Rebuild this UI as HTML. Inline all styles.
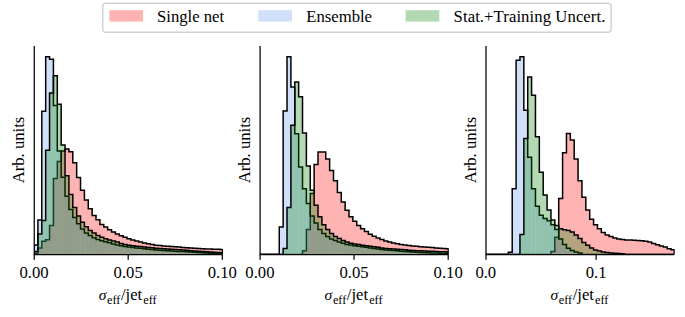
<!DOCTYPE html>
<html><head><meta charset="utf-8"><title>plot</title>
<style>html,body{margin:0;padding:0;background:#fff}svg{display:block}</style></head>
<body>
<svg width="685" height="317" viewBox="0 0 685 317" font-family="'Liberation Serif', serif">
<rect width="685" height="317" fill="#fff"/>
<clipPath id="c0"><rect x="34.05" y="46" width="188.3" height="208.55"/></clipPath>
<g clip-path="url(#c0)">
<g fill="rgb(255,0,0)" fill-opacity="0.3">
<rect x="34.05" y="253.2" width="3.874" height="1.35"/>
<rect x="37.924" y="248" width="3.874" height="6.55"/>
<rect x="41.798" y="241.2" width="3.874" height="13.35"/>
<rect x="45.672" y="239.7" width="3.874" height="14.85"/>
<rect x="49.546" y="225.5" width="3.874" height="29.05"/>
<rect x="53.42" y="178.5" width="3.874" height="76.05"/>
<rect x="57.294" y="161.5" width="3.874" height="93.05"/>
<rect x="61.168" y="151" width="3.874" height="103.55"/>
<rect x="65.042" y="149" width="3.874" height="105.55"/>
<rect x="68.916" y="151.8" width="3.874" height="102.75"/>
<rect x="72.79" y="162.8" width="3.874" height="91.75"/>
<rect x="76.664" y="177.5" width="3.874" height="77.05"/>
<rect x="80.538" y="190.2" width="3.874" height="64.35"/>
<rect x="84.412" y="200" width="3.874" height="54.55"/>
<rect x="88.286" y="208.8" width="3.874" height="45.75"/>
<rect x="92.16" y="215.4" width="3.874" height="39.15"/>
<rect x="96.034" y="219.8" width="3.874" height="34.75"/>
<rect x="99.908" y="224.4" width="3.874" height="30.15"/>
<rect x="103.782" y="227" width="3.874" height="27.55"/>
<rect x="107.656" y="229.7" width="3.874" height="24.85"/>
<rect x="111.53" y="232" width="3.874" height="22.55"/>
<rect x="115.404" y="233.9" width="3.874" height="20.65"/>
<rect x="119.278" y="235.8" width="3.874" height="18.75"/>
<rect x="123.152" y="237.3" width="3.874" height="17.25"/>
<rect x="127.026" y="238.8" width="3.874" height="15.75"/>
<rect x="130.9" y="240.1" width="3.874" height="14.45"/>
<rect x="134.774" y="241" width="3.874" height="13.55"/>
<rect x="138.648" y="241.9" width="3.874" height="12.65"/>
<rect x="142.522" y="242.9" width="3.874" height="11.65"/>
<rect x="146.396" y="243.7" width="3.874" height="10.85"/>
<rect x="150.27" y="244.5" width="3.874" height="10.05"/>
<rect x="154.144" y="245.3" width="3.874" height="9.25"/>
<rect x="158.018" y="245.6" width="3.874" height="8.95"/>
<rect x="161.892" y="245.9" width="3.874" height="8.65"/>
<rect x="165.766" y="246.2" width="3.874" height="8.35"/>
<rect x="169.64" y="246.5" width="3.874" height="8.05"/>
<rect x="173.514" y="246.8" width="3.874" height="7.75"/>
<rect x="177.388" y="247.1" width="3.874" height="7.45"/>
<rect x="181.262" y="247.4" width="3.874" height="7.15"/>
<rect x="185.136" y="247.65" width="3.874" height="6.9"/>
<rect x="189.01" y="247.9" width="3.874" height="6.65"/>
<rect x="192.884" y="248.15" width="3.874" height="6.4"/>
<rect x="196.758" y="248.4" width="3.874" height="6.15"/>
<rect x="200.632" y="248.65" width="3.874" height="5.9"/>
<rect x="204.506" y="248.9" width="3.874" height="5.65"/>
<rect x="208.38" y="249.05" width="3.874" height="5.5"/>
<rect x="212.254" y="249.2" width="3.874" height="5.35"/>
<rect x="216.128" y="249.35" width="3.874" height="5.2"/>
<rect x="220.002" y="249.5" width="3.874" height="5.05"/>
</g>
<path d="M34.05 254.55 L34.05 253.2 L37.924 253.2 L37.924 248 L41.798 248 L41.798 241.2 L45.672 241.2 L45.672 239.7 L49.546 239.7 L49.546 225.5 L53.42 225.5 L53.42 178.5 L57.294 178.5 L57.294 161.5 L61.168 161.5 L61.168 151 L65.042 151 L65.042 149 L68.916 149 L68.916 151.8 L72.79 151.8 L72.79 162.8 L76.664 162.8 L76.664 177.5 L80.538 177.5 L80.538 190.2 L84.412 190.2 L84.412 200 L88.286 200 L88.286 208.8 L92.16 208.8 L92.16 215.4 L96.034 215.4 L96.034 219.8 L99.908 219.8 L99.908 224.4 L103.782 224.4 L103.782 227 L107.656 227 L107.656 229.7 L111.53 229.7 L111.53 232 L115.404 232 L115.404 233.9 L119.278 233.9 L119.278 235.8 L123.152 235.8 L123.152 237.3 L127.026 237.3 L127.026 238.8 L130.9 238.8 L130.9 240.1 L134.774 240.1 L134.774 241 L138.648 241 L138.648 241.9 L142.522 241.9 L142.522 242.9 L146.396 242.9 L146.396 243.7 L150.27 243.7 L150.27 244.5 L154.144 244.5 L154.144 245.3 L158.018 245.3 L158.018 245.6 L161.892 245.6 L161.892 245.9 L165.766 245.9 L165.766 246.2 L169.64 246.2 L169.64 246.5 L173.514 246.5 L173.514 246.8 L177.388 246.8 L177.388 247.1 L181.262 247.1 L181.262 247.4 L185.136 247.4 L185.136 247.65 L189.01 247.65 L189.01 247.9 L192.884 247.9 L192.884 248.15 L196.758 248.15 L196.758 248.4 L200.632 248.4 L200.632 248.65 L204.506 248.65 L204.506 248.9 L208.38 248.9 L208.38 249.05 L212.254 249.05 L212.254 249.2 L216.128 249.2 L216.128 249.35 L220.002 249.35 L220.002 249.5 L223.876 249.5" fill="none" stroke="#000" stroke-width="1.5" stroke-linejoin="miter"/>
<g fill="rgb(100,149,237)" fill-opacity="0.3">
<rect x="34.05" y="245" width="3.874" height="9.55"/>
<rect x="37.924" y="220" width="3.874" height="34.55"/>
<rect x="41.798" y="111.2" width="3.874" height="143.35"/>
<rect x="45.672" y="56.7" width="3.874" height="197.85"/>
<rect x="49.546" y="59.2" width="3.874" height="195.35"/>
<rect x="53.42" y="105.6" width="3.874" height="148.95"/>
<rect x="57.294" y="151" width="3.874" height="103.55"/>
<rect x="61.168" y="177.2" width="3.874" height="77.35"/>
<rect x="65.042" y="196.3" width="3.874" height="58.25"/>
<rect x="68.916" y="209.5" width="3.874" height="45.05"/>
<rect x="72.79" y="217.6" width="3.874" height="36.95"/>
<rect x="76.664" y="223.7" width="3.874" height="30.85"/>
<rect x="80.538" y="229" width="3.874" height="25.55"/>
<rect x="84.412" y="233.1" width="3.874" height="21.45"/>
<rect x="88.286" y="235.6" width="3.874" height="18.95"/>
<rect x="92.16" y="237.7" width="3.874" height="16.85"/>
<rect x="96.034" y="239.4" width="3.874" height="15.15"/>
<rect x="99.908" y="240.7" width="3.874" height="13.85"/>
<rect x="103.782" y="241.8" width="3.874" height="12.75"/>
<rect x="107.656" y="242.8" width="3.874" height="11.75"/>
<rect x="111.53" y="243.9" width="3.874" height="10.65"/>
<rect x="115.404" y="244.9" width="3.874" height="9.65"/>
<rect x="119.278" y="245.7" width="3.874" height="8.85"/>
<rect x="123.152" y="246.4" width="3.874" height="8.15"/>
<rect x="127.026" y="247.1" width="3.874" height="7.45"/>
<rect x="130.9" y="247.5" width="3.874" height="7.05"/>
<rect x="134.774" y="247.9" width="3.874" height="6.65"/>
<rect x="138.648" y="248.3" width="3.874" height="6.25"/>
<rect x="142.522" y="248.7" width="3.874" height="5.85"/>
<rect x="146.396" y="249.133" width="3.874" height="5.417"/>
<rect x="150.27" y="249.567" width="3.874" height="4.983"/>
<rect x="154.144" y="250" width="3.874" height="4.55"/>
<rect x="158.018" y="250.229" width="3.874" height="4.321"/>
<rect x="161.892" y="250.459" width="3.874" height="4.091"/>
<rect x="165.766" y="250.688" width="3.874" height="3.862"/>
<rect x="169.64" y="250.918" width="3.874" height="3.632"/>
<rect x="173.514" y="251.147" width="3.874" height="3.403"/>
<rect x="177.388" y="251.376" width="3.874" height="3.174"/>
<rect x="181.262" y="251.606" width="3.874" height="2.944"/>
<rect x="185.136" y="251.835" width="3.874" height="2.715"/>
<rect x="189.01" y="252.065" width="3.874" height="2.485"/>
<rect x="192.884" y="252.294" width="3.874" height="2.256"/>
<rect x="196.758" y="252.524" width="3.874" height="2.026"/>
<rect x="200.632" y="252.753" width="3.874" height="1.797"/>
<rect x="204.506" y="252.982" width="3.874" height="1.568"/>
<rect x="208.38" y="253.212" width="3.874" height="1.338"/>
<rect x="212.254" y="253.441" width="3.874" height="1.109"/>
<rect x="216.128" y="253.671" width="3.874" height="0.879"/>
<rect x="220.002" y="253.9" width="3.874" height="0.65"/>
</g>
<path d="M34.05 254.55 L34.05 245 L37.924 245 L37.924 220 L41.798 220 L41.798 111.2 L45.672 111.2 L45.672 56.7 L49.546 56.7 L49.546 59.2 L53.42 59.2 L53.42 105.6 L57.294 105.6 L57.294 151 L61.168 151 L61.168 177.2 L65.042 177.2 L65.042 196.3 L68.916 196.3 L68.916 209.5 L72.79 209.5 L72.79 217.6 L76.664 217.6 L76.664 223.7 L80.538 223.7 L80.538 229 L84.412 229 L84.412 233.1 L88.286 233.1 L88.286 235.6 L92.16 235.6 L92.16 237.7 L96.034 237.7 L96.034 239.4 L99.908 239.4 L99.908 240.7 L103.782 240.7 L103.782 241.8 L107.656 241.8 L107.656 242.8 L111.53 242.8 L111.53 243.9 L115.404 243.9 L115.404 244.9 L119.278 244.9 L119.278 245.7 L123.152 245.7 L123.152 246.4 L127.026 246.4 L127.026 247.1 L130.9 247.1 L130.9 247.5 L134.774 247.5 L134.774 247.9 L138.648 247.9 L138.648 248.3 L142.522 248.3 L142.522 248.7 L146.396 248.7 L146.396 249.133 L150.27 249.133 L150.27 249.567 L154.144 249.567 L154.144 250 L158.018 250 L158.018 250.229 L161.892 250.229 L161.892 250.459 L165.766 250.459 L165.766 250.688 L169.64 250.688 L169.64 250.918 L173.514 250.918 L173.514 251.147 L177.388 251.147 L177.388 251.376 L181.262 251.376 L181.262 251.606 L185.136 251.606 L185.136 251.835 L189.01 251.835 L189.01 252.065 L192.884 252.065 L192.884 252.294 L196.758 252.294 L196.758 252.524 L200.632 252.524 L200.632 252.753 L204.506 252.753 L204.506 252.982 L208.38 252.982 L208.38 253.212 L212.254 253.212 L212.254 253.441 L216.128 253.441 L216.128 253.671 L220.002 253.671 L220.002 253.9 L223.876 253.9" fill="none" stroke="#000" stroke-width="1.5" stroke-linejoin="miter"/>
<g fill="rgb(0,128,0)" fill-opacity="0.3">
<rect x="34.05" y="251.6" width="3.874" height="2.95"/>
<rect x="37.924" y="234" width="3.874" height="20.55"/>
<rect x="41.798" y="220.5" width="3.874" height="34.05"/>
<rect x="45.672" y="150.25" width="3.874" height="104.3"/>
<rect x="49.546" y="92.9" width="3.874" height="161.65"/>
<rect x="53.42" y="75.8" width="3.874" height="178.75"/>
<rect x="57.294" y="104.3" width="3.874" height="150.25"/>
<rect x="61.168" y="145" width="3.874" height="109.55"/>
<rect x="65.042" y="175.8" width="3.874" height="78.75"/>
<rect x="68.916" y="194.6" width="3.874" height="59.95"/>
<rect x="72.79" y="207.4" width="3.874" height="47.15"/>
<rect x="76.664" y="216.1" width="3.874" height="38.45"/>
<rect x="80.538" y="222.2" width="3.874" height="32.35"/>
<rect x="84.412" y="226.7" width="3.874" height="27.85"/>
<rect x="88.286" y="230.5" width="3.874" height="24.05"/>
<rect x="92.16" y="233.1" width="3.874" height="21.45"/>
<rect x="96.034" y="235.4" width="3.874" height="19.15"/>
<rect x="99.908" y="237.3" width="3.874" height="17.25"/>
<rect x="103.782" y="238.8" width="3.874" height="15.75"/>
<rect x="107.656" y="239.9" width="3.874" height="14.65"/>
<rect x="111.53" y="241.1" width="3.874" height="13.45"/>
<rect x="115.404" y="242.1" width="3.874" height="12.45"/>
<rect x="119.278" y="243.6" width="3.874" height="10.95"/>
<rect x="123.152" y="244.5" width="3.874" height="10.05"/>
<rect x="127.026" y="245.3" width="3.874" height="9.25"/>
<rect x="130.9" y="245.8" width="3.874" height="8.75"/>
<rect x="134.774" y="246.2" width="3.874" height="8.35"/>
<rect x="138.648" y="246.6" width="3.874" height="7.95"/>
<rect x="142.522" y="247" width="3.874" height="7.55"/>
<rect x="146.396" y="247.433" width="3.874" height="7.117"/>
<rect x="150.27" y="247.867" width="3.874" height="6.683"/>
<rect x="154.144" y="248.3" width="3.874" height="6.25"/>
<rect x="158.018" y="248.559" width="3.874" height="5.991"/>
<rect x="161.892" y="248.818" width="3.874" height="5.732"/>
<rect x="165.766" y="249.076" width="3.874" height="5.474"/>
<rect x="169.64" y="249.335" width="3.874" height="5.215"/>
<rect x="173.514" y="249.594" width="3.874" height="4.956"/>
<rect x="177.388" y="249.853" width="3.874" height="4.697"/>
<rect x="181.262" y="250.112" width="3.874" height="4.438"/>
<rect x="185.136" y="250.371" width="3.874" height="4.179"/>
<rect x="189.01" y="250.629" width="3.874" height="3.921"/>
<rect x="192.884" y="250.888" width="3.874" height="3.662"/>
<rect x="196.758" y="251.147" width="3.874" height="3.403"/>
<rect x="200.632" y="251.406" width="3.874" height="3.144"/>
<rect x="204.506" y="251.665" width="3.874" height="2.885"/>
<rect x="208.38" y="251.924" width="3.874" height="2.626"/>
<rect x="212.254" y="252.182" width="3.874" height="2.368"/>
<rect x="216.128" y="252.441" width="3.874" height="2.109"/>
<rect x="220.002" y="252.7" width="3.874" height="1.85"/>
</g>
<path d="M34.05 254.55 L34.05 251.6 L37.924 251.6 L37.924 234 L41.798 234 L41.798 220.5 L45.672 220.5 L45.672 150.25 L49.546 150.25 L49.546 92.9 L53.42 92.9 L53.42 75.8 L57.294 75.8 L57.294 104.3 L61.168 104.3 L61.168 145 L65.042 145 L65.042 175.8 L68.916 175.8 L68.916 194.6 L72.79 194.6 L72.79 207.4 L76.664 207.4 L76.664 216.1 L80.538 216.1 L80.538 222.2 L84.412 222.2 L84.412 226.7 L88.286 226.7 L88.286 230.5 L92.16 230.5 L92.16 233.1 L96.034 233.1 L96.034 235.4 L99.908 235.4 L99.908 237.3 L103.782 237.3 L103.782 238.8 L107.656 238.8 L107.656 239.9 L111.53 239.9 L111.53 241.1 L115.404 241.1 L115.404 242.1 L119.278 242.1 L119.278 243.6 L123.152 243.6 L123.152 244.5 L127.026 244.5 L127.026 245.3 L130.9 245.3 L130.9 245.8 L134.774 245.8 L134.774 246.2 L138.648 246.2 L138.648 246.6 L142.522 246.6 L142.522 247 L146.396 247 L146.396 247.433 L150.27 247.433 L150.27 247.867 L154.144 247.867 L154.144 248.3 L158.018 248.3 L158.018 248.559 L161.892 248.559 L161.892 248.818 L165.766 248.818 L165.766 249.076 L169.64 249.076 L169.64 249.335 L173.514 249.335 L173.514 249.594 L177.388 249.594 L177.388 249.853 L181.262 249.853 L181.262 250.112 L185.136 250.112 L185.136 250.371 L189.01 250.371 L189.01 250.629 L192.884 250.629 L192.884 250.888 L196.758 250.888 L196.758 251.147 L200.632 251.147 L200.632 251.406 L204.506 251.406 L204.506 251.665 L208.38 251.665 L208.38 251.924 L212.254 251.924 L212.254 252.182 L216.128 252.182 L216.128 252.441 L220.002 252.441 L220.002 252.7 L223.876 252.7" fill="none" stroke="#000" stroke-width="1.5" stroke-linejoin="miter"/>
</g>
<path d="M222.35 248.9 L222.35 254.55" stroke="#000" stroke-width="1.2" fill="none"/>
<path d="M34.25 46 L34.25 254.55 L222.35 254.55" fill="none" stroke="#000" stroke-width="1.25" stroke-linecap="butt" stroke-linejoin="miter"/>
<path d="M34.25 254.55 L34.25 259.75" stroke="#000" stroke-width="1.25"/>
<text x="34.05" y="278" font-size="16.67" text-anchor="middle">0.00</text>
<path d="M128.2 254.55 L128.2 259.75" stroke="#000" stroke-width="1.25"/>
<text x="128.2" y="278" font-size="16.67" text-anchor="middle">0.05</text>
<path d="M222.35 254.55 L222.35 259.75" stroke="#000" stroke-width="1.25"/>
<text x="222.35" y="278" font-size="16.67" text-anchor="middle">0.10</text>
<text transform="translate(24.05 150) rotate(-90)" font-size="16.67" text-anchor="middle">Arb. units</text>
<text y="300" font-size="16.67"><tspan x="98.7" font-style="italic" font-size="15.6">σ</tspan><tspan x="107.1" dy="3.5" font-size="12.2">eff</tspan><tspan x="120.9" dy="-3.5" font-size="16.67">/jet</tspan><tspan x="143.3" dy="3.5" font-size="12.2">eff</tspan></text>
<clipPath id="c1"><rect x="259.9" y="46" width="188.3" height="208.55"/></clipPath>
<g clip-path="url(#c1)">
<g fill="rgb(255,0,0)" fill-opacity="0.3">
<rect x="302.514" y="250.7" width="3.874" height="3.85"/>
<rect x="306.388" y="229.4" width="3.874" height="25.15"/>
<rect x="310.262" y="193.4" width="3.874" height="61.15"/>
<rect x="314.136" y="164.4" width="3.874" height="90.15"/>
<rect x="318.01" y="152.1" width="3.874" height="102.45"/>
<rect x="321.884" y="152.1" width="3.874" height="102.45"/>
<rect x="325.758" y="158.9" width="3.874" height="95.65"/>
<rect x="329.632" y="170.6" width="3.874" height="83.95"/>
<rect x="333.506" y="180.8" width="3.874" height="73.75"/>
<rect x="337.38" y="192.6" width="3.874" height="61.95"/>
<rect x="341.254" y="202" width="3.874" height="52.55"/>
<rect x="345.128" y="210.2" width="3.874" height="44.35"/>
<rect x="349.002" y="216.8" width="3.874" height="37.75"/>
<rect x="352.876" y="221.2" width="3.874" height="33.35"/>
<rect x="356.75" y="225.5" width="3.874" height="29.05"/>
<rect x="360.624" y="228.7" width="3.874" height="25.85"/>
<rect x="364.498" y="231.5" width="3.874" height="23.05"/>
<rect x="368.372" y="234.2" width="3.874" height="20.35"/>
<rect x="372.246" y="236.2" width="3.874" height="18.35"/>
<rect x="376.12" y="238.1" width="3.874" height="16.45"/>
<rect x="379.994" y="239.6" width="3.874" height="14.95"/>
<rect x="383.868" y="241" width="3.874" height="13.55"/>
<rect x="387.742" y="242" width="3.874" height="12.55"/>
<rect x="391.616" y="242.9" width="3.874" height="11.65"/>
<rect x="395.49" y="243.7" width="3.874" height="10.85"/>
<rect x="399.364" y="244.4" width="3.874" height="10.15"/>
<rect x="403.238" y="244.9" width="3.874" height="9.65"/>
<rect x="407.112" y="245.4" width="3.874" height="9.15"/>
<rect x="410.986" y="245.9" width="3.874" height="8.65"/>
<rect x="414.86" y="246.3" width="3.874" height="8.25"/>
<rect x="418.734" y="246.625" width="3.874" height="7.925"/>
<rect x="422.608" y="246.95" width="3.874" height="7.6"/>
<rect x="426.482" y="247.275" width="3.874" height="7.275"/>
<rect x="430.356" y="247.6" width="3.874" height="6.95"/>
<rect x="434.23" y="247.9" width="3.874" height="6.65"/>
<rect x="438.104" y="248.2" width="3.874" height="6.35"/>
<rect x="441.978" y="248.5" width="3.874" height="6.05"/>
<rect x="445.852" y="248.8" width="3.874" height="5.75"/>
</g>
<path d="M259.9 254.55 L259.9 254.55 L263.774 254.55 L263.774 254.55 L267.648 254.55 L267.648 254.55 L271.522 254.55 L271.522 254.55 L275.396 254.55 L275.396 254.55 L279.27 254.55 L279.27 254.55 L283.144 254.55 L283.144 254.55 L287.018 254.55 L287.018 254.55 L290.892 254.55 L290.892 254.55 L294.766 254.55 L294.766 254.55 L298.64 254.55 L298.64 254.55 L302.514 254.55 L302.514 250.7 L306.388 250.7 L306.388 229.4 L310.262 229.4 L310.262 193.4 L314.136 193.4 L314.136 164.4 L318.01 164.4 L318.01 152.1 L321.884 152.1 L321.884 152.1 L325.758 152.1 L325.758 158.9 L329.632 158.9 L329.632 170.6 L333.506 170.6 L333.506 180.8 L337.38 180.8 L337.38 192.6 L341.254 192.6 L341.254 202 L345.128 202 L345.128 210.2 L349.002 210.2 L349.002 216.8 L352.876 216.8 L352.876 221.2 L356.75 221.2 L356.75 225.5 L360.624 225.5 L360.624 228.7 L364.498 228.7 L364.498 231.5 L368.372 231.5 L368.372 234.2 L372.246 234.2 L372.246 236.2 L376.12 236.2 L376.12 238.1 L379.994 238.1 L379.994 239.6 L383.868 239.6 L383.868 241 L387.742 241 L387.742 242 L391.616 242 L391.616 242.9 L395.49 242.9 L395.49 243.7 L399.364 243.7 L399.364 244.4 L403.238 244.4 L403.238 244.9 L407.112 244.9 L407.112 245.4 L410.986 245.4 L410.986 245.9 L414.86 245.9 L414.86 246.3 L418.734 246.3 L418.734 246.625 L422.608 246.625 L422.608 246.95 L426.482 246.95 L426.482 247.275 L430.356 247.275 L430.356 247.6 L434.23 247.6 L434.23 247.9 L438.104 247.9 L438.104 248.2 L441.978 248.2 L441.978 248.5 L445.852 248.5 L445.852 248.8 L449.726 248.8" fill="none" stroke="#000" stroke-width="1.5" stroke-linejoin="miter"/>
<g fill="rgb(100,149,237)" fill-opacity="0.3">
<rect x="279.27" y="227.1" width="3.874" height="27.45"/>
<rect x="283.144" y="111" width="3.874" height="143.55"/>
<rect x="287.018" y="56.8" width="3.874" height="197.75"/>
<rect x="290.892" y="87" width="3.874" height="167.55"/>
<rect x="294.766" y="133.7" width="3.874" height="120.85"/>
<rect x="298.64" y="167" width="3.874" height="87.55"/>
<rect x="302.514" y="188.7" width="3.874" height="65.85"/>
<rect x="306.388" y="203.6" width="3.874" height="50.95"/>
<rect x="310.262" y="216" width="3.874" height="38.55"/>
<rect x="314.136" y="223" width="3.874" height="31.55"/>
<rect x="318.01" y="229.4" width="3.874" height="25.15"/>
<rect x="321.884" y="233.4" width="3.874" height="21.15"/>
<rect x="325.758" y="236.5" width="3.874" height="18.05"/>
<rect x="329.632" y="239" width="3.874" height="15.55"/>
<rect x="333.506" y="240.5" width="3.874" height="14.05"/>
<rect x="337.38" y="242" width="3.874" height="12.55"/>
<rect x="341.254" y="243.2" width="3.874" height="11.35"/>
<rect x="345.128" y="244.4" width="3.874" height="10.15"/>
<rect x="349.002" y="245.05" width="3.874" height="9.5"/>
<rect x="352.876" y="245.7" width="3.874" height="8.85"/>
<rect x="356.75" y="246.25" width="3.874" height="8.3"/>
<rect x="360.624" y="246.8" width="3.874" height="7.75"/>
<rect x="364.498" y="247.35" width="3.874" height="7.2"/>
<rect x="368.372" y="247.9" width="3.874" height="6.65"/>
<rect x="372.246" y="248.425" width="3.874" height="6.125"/>
<rect x="376.12" y="248.95" width="3.874" height="5.6"/>
<rect x="379.994" y="249.475" width="3.874" height="5.075"/>
<rect x="383.868" y="250" width="3.874" height="4.55"/>
<rect x="387.742" y="250.287" width="3.874" height="4.263"/>
<rect x="391.616" y="250.575" width="3.874" height="3.975"/>
<rect x="395.49" y="250.863" width="3.874" height="3.688"/>
<rect x="399.364" y="251.15" width="3.874" height="3.4"/>
<rect x="403.238" y="251.438" width="3.874" height="3.113"/>
<rect x="407.112" y="251.725" width="3.874" height="2.825"/>
<rect x="410.986" y="252.013" width="3.874" height="2.537"/>
<rect x="414.86" y="252.3" width="3.874" height="2.25"/>
<rect x="418.734" y="252.463" width="3.874" height="2.088"/>
<rect x="422.608" y="252.625" width="3.874" height="1.925"/>
<rect x="426.482" y="252.787" width="3.874" height="1.763"/>
<rect x="430.356" y="252.95" width="3.874" height="1.6"/>
<rect x="434.23" y="253.113" width="3.874" height="1.438"/>
<rect x="438.104" y="253.275" width="3.874" height="1.275"/>
<rect x="441.978" y="253.438" width="3.874" height="1.113"/>
<rect x="445.852" y="253.6" width="3.874" height="0.95"/>
</g>
<path d="M259.9 254.55 L259.9 254.55 L263.774 254.55 L263.774 254.55 L267.648 254.55 L267.648 254.55 L271.522 254.55 L271.522 254.55 L275.396 254.55 L275.396 254.55 L279.27 254.55 L279.27 227.1 L283.144 227.1 L283.144 111 L287.018 111 L287.018 56.8 L290.892 56.8 L290.892 87 L294.766 87 L294.766 133.7 L298.64 133.7 L298.64 167 L302.514 167 L302.514 188.7 L306.388 188.7 L306.388 203.6 L310.262 203.6 L310.262 216 L314.136 216 L314.136 223 L318.01 223 L318.01 229.4 L321.884 229.4 L321.884 233.4 L325.758 233.4 L325.758 236.5 L329.632 236.5 L329.632 239 L333.506 239 L333.506 240.5 L337.38 240.5 L337.38 242 L341.254 242 L341.254 243.2 L345.128 243.2 L345.128 244.4 L349.002 244.4 L349.002 245.05 L352.876 245.05 L352.876 245.7 L356.75 245.7 L356.75 246.25 L360.624 246.25 L360.624 246.8 L364.498 246.8 L364.498 247.35 L368.372 247.35 L368.372 247.9 L372.246 247.9 L372.246 248.425 L376.12 248.425 L376.12 248.95 L379.994 248.95 L379.994 249.475 L383.868 249.475 L383.868 250 L387.742 250 L387.742 250.287 L391.616 250.287 L391.616 250.575 L395.49 250.575 L395.49 250.863 L399.364 250.863 L399.364 251.15 L403.238 251.15 L403.238 251.438 L407.112 251.438 L407.112 251.725 L410.986 251.725 L410.986 252.013 L414.86 252.013 L414.86 252.3 L418.734 252.3 L418.734 252.463 L422.608 252.463 L422.608 252.625 L426.482 252.625 L426.482 252.787 L430.356 252.787 L430.356 252.95 L434.23 252.95 L434.23 253.113 L438.104 253.113 L438.104 253.275 L441.978 253.275 L441.978 253.438 L445.852 253.438 L445.852 253.6 L449.726 253.6" fill="none" stroke="#000" stroke-width="1.5" stroke-linejoin="miter"/>
<g fill="rgb(0,128,0)" fill-opacity="0.3">
<rect x="283.144" y="248.4" width="3.874" height="6.15"/>
<rect x="287.018" y="207.5" width="3.874" height="47.05"/>
<rect x="290.892" y="125.2" width="3.874" height="129.35"/>
<rect x="294.766" y="82.1" width="3.874" height="172.45"/>
<rect x="298.64" y="96.8" width="3.874" height="157.75"/>
<rect x="302.514" y="133" width="3.874" height="121.55"/>
<rect x="306.388" y="166" width="3.874" height="88.55"/>
<rect x="310.262" y="190.2" width="3.874" height="64.35"/>
<rect x="314.136" y="205.2" width="3.874" height="49.35"/>
<rect x="318.01" y="216.8" width="3.874" height="37.75"/>
<rect x="321.884" y="224.7" width="3.874" height="29.85"/>
<rect x="325.758" y="229.4" width="3.874" height="25.15"/>
<rect x="329.632" y="233.4" width="3.874" height="21.15"/>
<rect x="333.506" y="236.5" width="3.874" height="18.05"/>
<rect x="337.38" y="238.6" width="3.874" height="15.95"/>
<rect x="341.254" y="240.5" width="3.874" height="14.05"/>
<rect x="345.128" y="242" width="3.874" height="12.55"/>
<rect x="349.002" y="243.2" width="3.874" height="11.35"/>
<rect x="352.876" y="244" width="3.874" height="10.55"/>
<rect x="356.75" y="244.575" width="3.874" height="9.975"/>
<rect x="360.624" y="245.15" width="3.874" height="9.4"/>
<rect x="364.498" y="245.725" width="3.874" height="8.825"/>
<rect x="368.372" y="246.3" width="3.874" height="8.25"/>
<rect x="372.246" y="246.825" width="3.874" height="7.725"/>
<rect x="376.12" y="247.35" width="3.874" height="7.2"/>
<rect x="379.994" y="247.875" width="3.874" height="6.675"/>
<rect x="383.868" y="248.4" width="3.874" height="6.15"/>
<rect x="387.742" y="248.688" width="3.874" height="5.863"/>
<rect x="391.616" y="248.975" width="3.874" height="5.575"/>
<rect x="395.49" y="249.262" width="3.874" height="5.288"/>
<rect x="399.364" y="249.55" width="3.874" height="5"/>
<rect x="403.238" y="249.838" width="3.874" height="4.713"/>
<rect x="407.112" y="250.125" width="3.874" height="4.425"/>
<rect x="410.986" y="250.412" width="3.874" height="4.138"/>
<rect x="414.86" y="250.7" width="3.874" height="3.85"/>
<rect x="418.734" y="250.862" width="3.874" height="3.688"/>
<rect x="422.608" y="251.025" width="3.874" height="3.525"/>
<rect x="426.482" y="251.188" width="3.874" height="3.363"/>
<rect x="430.356" y="251.35" width="3.874" height="3.2"/>
<rect x="434.23" y="251.512" width="3.874" height="3.038"/>
<rect x="438.104" y="251.675" width="3.874" height="2.875"/>
<rect x="441.978" y="251.838" width="3.874" height="2.713"/>
<rect x="445.852" y="252" width="3.874" height="2.55"/>
</g>
<path d="M259.9 254.55 L259.9 254.55 L263.774 254.55 L263.774 254.55 L267.648 254.55 L267.648 254.55 L271.522 254.55 L271.522 254.55 L275.396 254.55 L275.396 254.55 L279.27 254.55 L279.27 254.55 L283.144 254.55 L283.144 248.4 L287.018 248.4 L287.018 207.5 L290.892 207.5 L290.892 125.2 L294.766 125.2 L294.766 82.1 L298.64 82.1 L298.64 96.8 L302.514 96.8 L302.514 133 L306.388 133 L306.388 166 L310.262 166 L310.262 190.2 L314.136 190.2 L314.136 205.2 L318.01 205.2 L318.01 216.8 L321.884 216.8 L321.884 224.7 L325.758 224.7 L325.758 229.4 L329.632 229.4 L329.632 233.4 L333.506 233.4 L333.506 236.5 L337.38 236.5 L337.38 238.6 L341.254 238.6 L341.254 240.5 L345.128 240.5 L345.128 242 L349.002 242 L349.002 243.2 L352.876 243.2 L352.876 244 L356.75 244 L356.75 244.575 L360.624 244.575 L360.624 245.15 L364.498 245.15 L364.498 245.725 L368.372 245.725 L368.372 246.3 L372.246 246.3 L372.246 246.825 L376.12 246.825 L376.12 247.35 L379.994 247.35 L379.994 247.875 L383.868 247.875 L383.868 248.4 L387.742 248.4 L387.742 248.688 L391.616 248.688 L391.616 248.975 L395.49 248.975 L395.49 249.262 L399.364 249.262 L399.364 249.55 L403.238 249.55 L403.238 249.838 L407.112 249.838 L407.112 250.125 L410.986 250.125 L410.986 250.412 L414.86 250.412 L414.86 250.7 L418.734 250.7 L418.734 250.862 L422.608 250.862 L422.608 251.025 L426.482 251.025 L426.482 251.188 L430.356 251.188 L430.356 251.35 L434.23 251.35 L434.23 251.512 L438.104 251.512 L438.104 251.675 L441.978 251.675 L441.978 251.838 L445.852 251.838 L445.852 252 L449.726 252" fill="none" stroke="#000" stroke-width="1.5" stroke-linejoin="miter"/>
</g>
<path d="M448.2 248.2 L448.2 254.55" stroke="#000" stroke-width="1.2" fill="none"/>
<path d="M260.1 46 L260.1 254.55 L448.2 254.55" fill="none" stroke="#000" stroke-width="1.25" stroke-linecap="butt" stroke-linejoin="miter"/>
<path d="M260.1 254.55 L260.1 259.75" stroke="#000" stroke-width="1.25"/>
<text x="259.9" y="278" font-size="16.67" text-anchor="middle">0.00</text>
<path d="M354.05 254.55 L354.05 259.75" stroke="#000" stroke-width="1.25"/>
<text x="354.05" y="278" font-size="16.67" text-anchor="middle">0.05</text>
<path d="M448.2 254.55 L448.2 259.75" stroke="#000" stroke-width="1.25"/>
<text x="448.2" y="278" font-size="16.67" text-anchor="middle">0.10</text>
<text transform="translate(249.9 150) rotate(-90)" font-size="16.67" text-anchor="middle">Arb. units</text>
<text y="300" font-size="16.67"><tspan x="324.55" font-style="italic" font-size="15.6">σ</tspan><tspan x="332.95" dy="3.5" font-size="12.2">eff</tspan><tspan x="346.75" dy="-3.5" font-size="16.67">/jet</tspan><tspan x="369.15" dy="3.5" font-size="12.2">eff</tspan></text>
<clipPath id="c2"><rect x="485.8" y="46" width="188.3" height="208.55"/></clipPath>
<g clip-path="url(#c2)">
<g fill="rgb(255,0,0)" fill-opacity="0.3">
<rect x="550.958" y="251.5" width="3.874" height="3.05"/>
<rect x="554.832" y="237.3" width="3.874" height="17.25"/>
<rect x="558.706" y="198.4" width="3.874" height="56.15"/>
<rect x="562.58" y="152.8" width="3.874" height="101.75"/>
<rect x="566.454" y="133.6" width="3.874" height="120.95"/>
<rect x="570.328" y="139.9" width="3.874" height="114.65"/>
<rect x="574.202" y="158.9" width="3.874" height="95.65"/>
<rect x="578.076" y="180.8" width="3.874" height="73.75"/>
<rect x="581.95" y="197.3" width="3.874" height="57.25"/>
<rect x="585.824" y="209.9" width="3.874" height="44.65"/>
<rect x="589.698" y="219.2" width="3.874" height="35.35"/>
<rect x="593.572" y="224.7" width="3.874" height="29.85"/>
<rect x="597.446" y="228.7" width="3.874" height="25.85"/>
<rect x="601.32" y="232.6" width="3.874" height="21.95"/>
<rect x="605.194" y="235" width="3.874" height="19.55"/>
<rect x="609.068" y="236.5" width="3.874" height="18.05"/>
<rect x="612.942" y="238" width="3.874" height="16.55"/>
<rect x="616.816" y="238.9" width="3.874" height="15.65"/>
<rect x="620.69" y="239.5" width="3.874" height="15.05"/>
<rect x="624.564" y="240" width="3.874" height="14.55"/>
<rect x="628.438" y="240.1" width="3.874" height="14.45"/>
<rect x="632.312" y="240.3" width="3.874" height="14.25"/>
<rect x="636.186" y="240.5" width="3.874" height="14.05"/>
<rect x="640.06" y="240.7" width="3.874" height="13.85"/>
<rect x="643.934" y="241.2" width="3.874" height="13.35"/>
<rect x="647.808" y="242.1" width="3.874" height="12.45"/>
<rect x="651.682" y="243.4" width="3.874" height="11.15"/>
<rect x="655.556" y="244.7" width="3.874" height="9.85"/>
<rect x="659.43" y="246" width="3.874" height="8.55"/>
<rect x="663.304" y="247.1" width="3.874" height="7.45"/>
<rect x="667.178" y="248.8" width="3.874" height="5.75"/>
<rect x="671.052" y="249.7" width="3.874" height="4.85"/>
</g>
<path d="M485.1 254.55 L485.1 254.55 L488.974 254.55 L488.974 254.55 L492.848 254.55 L492.848 254.55 L496.722 254.55 L496.722 254.55 L500.596 254.55 L500.596 254.55 L504.47 254.55 L504.47 254.55 L508.344 254.55 L508.344 254.55 L512.218 254.55 L512.218 254.55 L516.092 254.55 L516.092 254.55 L519.966 254.55 L519.966 254.55 L523.84 254.55 L523.84 254.55 L527.714 254.55 L527.714 254.55 L531.588 254.55 L531.588 254.55 L535.462 254.55 L535.462 254.55 L539.336 254.55 L539.336 254.55 L543.21 254.55 L543.21 254.55 L547.084 254.55 L547.084 254.55 L550.958 254.55 L550.958 251.5 L554.832 251.5 L554.832 237.3 L558.706 237.3 L558.706 198.4 L562.58 198.4 L562.58 152.8 L566.454 152.8 L566.454 133.6 L570.328 133.6 L570.328 139.9 L574.202 139.9 L574.202 158.9 L578.076 158.9 L578.076 180.8 L581.95 180.8 L581.95 197.3 L585.824 197.3 L585.824 209.9 L589.698 209.9 L589.698 219.2 L593.572 219.2 L593.572 224.7 L597.446 224.7 L597.446 228.7 L601.32 228.7 L601.32 232.6 L605.194 232.6 L605.194 235 L609.068 235 L609.068 236.5 L612.942 236.5 L612.942 238 L616.816 238 L616.816 238.9 L620.69 238.9 L620.69 239.5 L624.564 239.5 L624.564 240 L628.438 240 L628.438 240.1 L632.312 240.1 L632.312 240.3 L636.186 240.3 L636.186 240.5 L640.06 240.5 L640.06 240.7 L643.934 240.7 L643.934 241.2 L647.808 241.2 L647.808 242.1 L651.682 242.1 L651.682 243.4 L655.556 243.4 L655.556 244.7 L659.43 244.7 L659.43 246 L663.304 246 L663.304 247.1 L667.178 247.1 L667.178 248.8 L671.052 248.8 L671.052 249.7 L674.926 249.7" fill="none" stroke="#000" stroke-width="1.5" stroke-linejoin="miter"/>
<g fill="rgb(100,149,237)" fill-opacity="0.3">
<rect x="508.344" y="252.3" width="3.874" height="2.25"/>
<rect x="512.218" y="188.7" width="3.874" height="65.85"/>
<rect x="516.092" y="60.3" width="3.874" height="194.25"/>
<rect x="519.966" y="56.7" width="3.874" height="197.85"/>
<rect x="523.84" y="110.2" width="3.874" height="144.35"/>
<rect x="527.714" y="157.3" width="3.874" height="97.25"/>
<rect x="531.588" y="188.7" width="3.874" height="65.85"/>
<rect x="535.462" y="206.3" width="3.874" height="48.25"/>
<rect x="539.336" y="215.3" width="3.874" height="39.25"/>
<rect x="543.21" y="218.4" width="3.874" height="36.15"/>
<rect x="547.084" y="220.8" width="3.874" height="33.75"/>
<rect x="550.958" y="224.7" width="3.874" height="29.85"/>
<rect x="554.832" y="229.4" width="3.874" height="25.15"/>
<rect x="558.706" y="239" width="3.874" height="15.55"/>
<rect x="562.58" y="244.4" width="3.874" height="10.15"/>
<rect x="566.454" y="248.2" width="3.874" height="6.35"/>
<rect x="570.328" y="250.5" width="3.874" height="4.05"/>
<rect x="574.202" y="252" width="3.874" height="2.55"/>
<rect x="578.076" y="253" width="3.874" height="1.55"/>
</g>
<path d="M485.1 254.55 L485.1 254.55 L488.974 254.55 L488.974 254.55 L492.848 254.55 L492.848 254.55 L496.722 254.55 L496.722 254.55 L500.596 254.55 L500.596 254.55 L504.47 254.55 L504.47 254.55 L508.344 254.55 L508.344 252.3 L512.218 252.3 L512.218 188.7 L516.092 188.7 L516.092 60.3 L519.966 60.3 L519.966 56.7 L523.84 56.7 L523.84 110.2 L527.714 110.2 L527.714 157.3 L531.588 157.3 L531.588 188.7 L535.462 188.7 L535.462 206.3 L539.336 206.3 L539.336 215.3 L543.21 215.3 L543.21 218.4 L547.084 218.4 L547.084 220.8 L550.958 220.8 L550.958 224.7 L554.832 224.7 L554.832 229.4 L558.706 229.4 L558.706 239 L562.58 239 L562.58 244.4 L566.454 244.4 L566.454 248.2 L570.328 248.2 L570.328 250.5 L574.202 250.5 L574.202 252 L578.076 252 L578.076 253 L581.95 253 L581.95 254.55 L585.824 254.55 L585.824 254.55 L589.698 254.55 L589.698 254.55 L593.572 254.55 L593.572 254.55 L597.446 254.55 L597.446 254.55 L601.32 254.55 L601.32 254.55 L605.194 254.55 L605.194 254.55 L609.068 254.55 L609.068 254.55 L612.942 254.55 L612.942 254.55 L616.816 254.55 L616.816 254.55 L620.69 254.55 L620.69 254.55 L624.564 254.55 L624.564 254.55 L628.438 254.55 L628.438 254.55 L632.312 254.55 L632.312 254.55 L636.186 254.55 L636.186 254.55 L640.06 254.55 L640.06 254.55 L643.934 254.55 L643.934 254.55 L647.808 254.55 L647.808 254.55 L651.682 254.55 L651.682 254.55 L655.556 254.55 L655.556 254.55 L659.43 254.55 L659.43 254.55 L663.304 254.55 L663.304 254.55 L667.178 254.55 L667.178 254.55 L671.052 254.55 L671.052 254.55 L674.926 254.55" fill="none" stroke="#000" stroke-width="1.5" stroke-linejoin="miter"/>
<g fill="rgb(0,128,0)" fill-opacity="0.3">
<rect x="519.966" y="234.5" width="3.874" height="20.05"/>
<rect x="523.84" y="138.4" width="3.874" height="116.15"/>
<rect x="527.714" y="77" width="3.874" height="177.55"/>
<rect x="531.588" y="95.3" width="3.874" height="159.25"/>
<rect x="535.462" y="136.8" width="3.874" height="117.75"/>
<rect x="539.336" y="172.2" width="3.874" height="82.35"/>
<rect x="543.21" y="195" width="3.874" height="59.55"/>
<rect x="547.084" y="210" width="3.874" height="44.55"/>
<rect x="550.958" y="220" width="3.874" height="34.55"/>
<rect x="554.832" y="225.5" width="3.874" height="29.05"/>
<rect x="558.706" y="228.7" width="3.874" height="25.85"/>
<rect x="562.58" y="229.7" width="3.874" height="24.85"/>
<rect x="566.454" y="230.6" width="3.874" height="23.95"/>
<rect x="570.328" y="232" width="3.874" height="22.55"/>
<rect x="574.202" y="235" width="3.874" height="19.55"/>
<rect x="578.076" y="238.5" width="3.874" height="16.05"/>
<rect x="581.95" y="242.4" width="3.874" height="12.15"/>
<rect x="585.824" y="245.2" width="3.874" height="9.35"/>
<rect x="589.698" y="247.9" width="3.874" height="6.65"/>
<rect x="593.572" y="250" width="3.874" height="4.55"/>
<rect x="597.446" y="251" width="3.874" height="3.55"/>
<rect x="601.32" y="252" width="3.874" height="2.55"/>
<rect x="605.194" y="252.6" width="3.874" height="1.95"/>
<rect x="609.068" y="253" width="3.874" height="1.55"/>
<rect x="612.942" y="253.3" width="3.874" height="1.25"/>
<rect x="616.816" y="253.533" width="3.874" height="1.017"/>
<rect x="620.69" y="253.767" width="3.874" height="0.783"/>
</g>
<path d="M485.1 254.55 L485.1 254.55 L488.974 254.55 L488.974 254.55 L492.848 254.55 L492.848 254.55 L496.722 254.55 L496.722 254.55 L500.596 254.55 L500.596 254.55 L504.47 254.55 L504.47 254.55 L508.344 254.55 L508.344 254.55 L512.218 254.55 L512.218 254.55 L516.092 254.55 L516.092 254.55 L519.966 254.55 L519.966 234.5 L523.84 234.5 L523.84 138.4 L527.714 138.4 L527.714 77 L531.588 77 L531.588 95.3 L535.462 95.3 L535.462 136.8 L539.336 136.8 L539.336 172.2 L543.21 172.2 L543.21 195 L547.084 195 L547.084 210 L550.958 210 L550.958 220 L554.832 220 L554.832 225.5 L558.706 225.5 L558.706 228.7 L562.58 228.7 L562.58 229.7 L566.454 229.7 L566.454 230.6 L570.328 230.6 L570.328 232 L574.202 232 L574.202 235 L578.076 235 L578.076 238.5 L581.95 238.5 L581.95 242.4 L585.824 242.4 L585.824 245.2 L589.698 245.2 L589.698 247.9 L593.572 247.9 L593.572 250 L597.446 250 L597.446 251 L601.32 251 L601.32 252 L605.194 252 L605.194 252.6 L609.068 252.6 L609.068 253 L612.942 253 L612.942 253.3 L616.816 253.3 L616.816 253.533 L620.69 253.533 L620.69 253.767 L624.564 253.767 L624.564 254.55 L628.438 254.55 L628.438 254.55 L632.312 254.55 L632.312 254.55 L636.186 254.55 L636.186 254.55 L640.06 254.55 L640.06 254.55 L643.934 254.55 L643.934 254.55 L647.808 254.55 L647.808 254.55 L651.682 254.55 L651.682 254.55 L655.556 254.55 L655.556 254.55 L659.43 254.55 L659.43 254.55 L663.304 254.55 L663.304 254.55 L667.178 254.55 L667.178 254.55 L671.052 254.55 L671.052 254.55 L674.926 254.55" fill="none" stroke="#000" stroke-width="1.5" stroke-linejoin="miter"/>
</g>
<path d="M674.1 249.1 L674.1 254.55" stroke="#000" stroke-width="1.2" fill="none"/>
<path d="M486 46 L486 254.55 L674.1 254.55" fill="none" stroke="#000" stroke-width="1.25" stroke-linecap="butt" stroke-linejoin="miter"/>
<path d="M486 254.55 L486 259.75" stroke="#000" stroke-width="1.25"/>
<text x="485.8" y="278" font-size="16.67" text-anchor="middle">0.0</text>
<path d="M596.1 254.55 L596.1 259.75" stroke="#000" stroke-width="1.25"/>
<text x="596.1" y="278" font-size="16.67" text-anchor="middle">0.1</text>
<text transform="translate(475.8 150) rotate(-90)" font-size="16.67" text-anchor="middle">Arb. units</text>
<text y="300" font-size="16.67"><tspan x="550.45" font-style="italic" font-size="15.6">σ</tspan><tspan x="558.85" dy="3.5" font-size="12.2">eff</tspan><tspan x="572.65" dy="-3.5" font-size="16.67">/jet</tspan><tspan x="595.05" dy="3.5" font-size="12.2">eff</tspan></text>
<rect x="102.75" y="3.25" width="508.4" height="29" rx="3.3" ry="3.3" fill="#fff" stroke="#d1d1d1" stroke-width="1.45"/>
<rect x="109.4" y="10.2" width="33.6" height="11.4" fill="rgb(255,0,0)" fill-opacity="0.3"/>
<text x="157.0" y="21.6" font-size="16.67">Single net</text>
<rect x="258.3" y="10.2" width="33.6" height="11.4" fill="rgb(100,149,237)" fill-opacity="0.3"/>
<text x="306.3" y="21.6" font-size="16.67">Ensemble</text>
<rect x="405.7" y="10.2" width="33.6" height="11.4" fill="rgb(0,128,0)" fill-opacity="0.3"/>
<text x="453.6" y="21.6" font-size="16.67" letter-spacing="0.09">Stat.+Training Uncert.</text>
</svg>
</body></html>
